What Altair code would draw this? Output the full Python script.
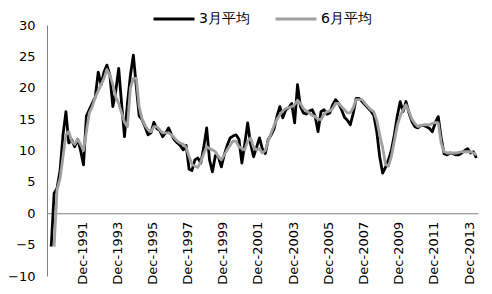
import altair as alt
import pandas as pd

# sample dates: odd months (Jan, Mar, May, Jul, Sep, Nov), Mar 1990 .. May 2014
months = [f"{y}-{m:02d}-01T00:00:00" for y in range(1990, 2015) for m in (1, 3, 5, 7, 9, 11)]
months = months[1:-3]

series_names = ["3月平均", "6月平均"]

black = [
    -5.3, 3.2, 4.0, 6.8, 12.5,                 # 1990 (Mar..Nov)
    16.2, 11.2, 11.7, 10.6, 11.8, 10.0,        # 1991
    7.7, 15.5, 16.5, 17.5, 18.5, 22.5,         # 1992
    20.5, 22.5, 23.6, 22.0, 17.0, 19.5,        # 1993
    23.1, 17.5, 12.2, 17.5, 22.0, 25.2,        # 1994
    20.2, 15.5, 14.9, 13.8, 12.5, 12.8,        # 1995
    14.5, 13.5, 13.2, 12.2, 12.8, 13.6,        # 1996
    12.5, 11.7, 11.2, 10.8, 10.1, 10.8,        # 1997
    7.0, 6.8, 8.5, 8.8, 8.0, 10.5,             # 1998
    13.6, 8.5, 6.6, 9.2, 9.0, 7.4,             # 1999
    9.3, 10.8, 12.0, 12.3, 12.5, 11.8,         # 2000
    8.0, 11.0, 14.4, 11.0, 9.0, 10.5,          # 2001
    12.0, 10.3, 9.5, 11.7, 12.5, 13.5,         # 2002
    15.5, 17.0, 15.2, 16.5, 16.8, 17.5,        # 2003
    14.4, 20.5, 17.0, 16.0, 15.8, 16.3,        # 2004
    16.5, 15.5, 13.0, 16.2, 16.5, 15.8,        # 2005
    16.0, 17.3, 18.1, 17.5, 16.5, 15.3,        # 2006
    14.8, 14.1, 15.9, 18.3, 18.3, 17.8,        # 2007
    17.3, 16.8, 16.3, 15.6, 13.0, 9.0,         # 2008
    6.4, 7.3, 8.5, 10.0, 12.5, 15.5,           # 2009
    17.8, 16.2, 17.8, 16.0, 14.6, 13.8,        # 2010
    13.6, 14.0, 14.0, 13.8, 13.5, 13.0,        # 2011
    14.5, 15.4, 12.0, 9.5, 9.3, 9.6,           # 2012
    9.5, 9.3, 9.3, 9.6, 10.0, 10.3,            # 2013
    9.6, 9.8, 8.8,                             # 2014 (Jan..May)
]

gray = [
    None, -5.3, 3.8, 5.5, 9.0,                 # 1990 (Mar..Nov)
    12.5, 13.0, 11.5, 11.0, 11.8, 11.0,        # 1991
    10.0, 13.0, 16.0, 17.0, 18.5, 19.5,        # 1992
    20.5, 21.5, 22.9, 22.0, 20.5, 18.5,        # 1993
    17.5, 16.0, 14.5, 13.8, 20.0, 21.5,        # 1994
    21.5, 17.0, 15.0, 14.0, 13.3, 13.0,        # 1995
    13.8, 13.8, 13.3, 12.8, 12.8, 12.8,        # 1996
    12.5, 12.0, 11.5, 11.2, 11.0, 10.5,        # 1997
    9.0, 7.8, 7.5, 7.3, 8.2, 9.5,              # 1998
    10.6, 10.3, 10.1, 9.8, 9.0, 8.5,           # 1999
    9.3, 10.1, 10.8, 11.5, 11.5, 10.6,         # 2000
    10.3, 10.1, 11.5, 12.0, 10.5, 10.1,        # 2001
    10.3, 9.6, 10.0, 11.5, 12.8, 14.0,         # 2002
    15.0, 15.7, 16.3, 16.7, 16.8, 17.0,        # 2003
    17.3, 18.0, 17.5, 16.7, 16.3, 16.0,        # 2004
    15.6, 15.4, 15.0, 14.9, 15.8, 16.2,        # 2005
    16.3, 16.7, 17.5, 17.5, 17.0, 16.5,        # 2006
    16.0, 16.0, 16.8, 18.1, 18.1, 18.1,        # 2007
    17.5, 17.0, 16.5, 16.2, 14.8, 12.5,        # 2008
    10.5, 7.8, 7.5, 9.0, 11.5, 14.0,           # 2009
    15.5, 16.5, 17.3, 16.2, 15.0, 14.3,        # 2010
    13.8, 14.0, 14.1, 14.1, 14.1, 14.3,        # 2011
    14.5, 14.4, 11.2, 9.8, 9.6, 9.6,           # 2012
    9.6, 9.6, 9.7, 9.8, 9.8, 9.8,              # 2013
    9.8, 9.6, 9.3,                             # 2014 (Jan..May)
]

y_ticks = [-10, -5, 0, 5, 10, 15, 20, 25, 30]
x_tick_years = [1991, 1993, 1995, 1997, 1999, 2001, 2003, 2005, 2007, 2009, 2011, 2013]

df_black = pd.DataFrame({"date": months, "value": black, "series": series_names[0]}).dropna()
df_gray = pd.DataFrame({"date": months, "value": gray, "series": series_names[1]}).dropna()

FONT = "DejaVu Sans"
color_scale = alt.Scale(domain=series_names, range=["#000000", "#a0a0a0"])

x_enc = alt.X(
    "date:T",
    title=None,
    scale=alt.Scale(domain=[alt.DateTime(year=1989, month=12, date=4),
                            alt.DateTime(year=2014, month=6, date=4)]),
    axis=alt.Axis(
        values=[alt.DateTime(year=y, month=12, date=1) for y in x_tick_years],
        format="%b-%Y",
        labelAngle=270,
        offset=-62.75,
        ticks=False,
        grid=False,
        domainColor="#808080",
        domainWidth=1,
        labelPadding=8,
        labelFont=FONT,
        labelFontSize=13,
        labelColor="#000000",
        labelOverlap=False,
        labelFlush=False,
    ),
)
y_enc = alt.Y(
    "value:Q",
    title=None,
    scale=alt.Scale(domain=[-10, 30], nice=False, zero=False),
    axis=alt.Axis(
        values=y_ticks,
        ticks=False,
        grid=False,
        domainColor="#808080",
        domainWidth=1,
        labelPadding=12,
        labelFont=FONT,
        labelFontSize=13,
        labelColor="#000000",
    ),
)
color_enc = alt.Color(
    "series:N",
    scale=color_scale,
    legend=alt.Legend(
        title=None,
        orient="none",
        direction="horizontal",
        legendX=105,
        legendY=-28,
        symbolType="stroke",
        symbolSize=1681,
        symbolStrokeWidth=3,
        labelFont=FONT,
        labelFontSize=14,
        labelColor="#000000",
        labelOffset=3,
        columnPadding=19,
        padding=0,
    ),
)

black_line = alt.Chart(df_black).mark_line(strokeWidth=2.8, strokeJoin="round").encode(
    x=x_enc, y=y_enc, color=color_enc
)
gray_line = alt.Chart(df_gray).mark_line(strokeWidth=2.8, strokeJoin="round").encode(
    x=x_enc, y=y_enc, color=color_enc
)

chart = alt.layer(black_line, gray_line).properties(
    width=431,
    height=251,
    autosize=alt.AutoSizeParams(type="none"),
    padding={"left": 47, "top": 25, "right": 14, "bottom": 18},
    background="#ffffff",
).configure_view(stroke=None)

chart.save("out.html", embed_options={"renderer": "svg", "actions": False})
